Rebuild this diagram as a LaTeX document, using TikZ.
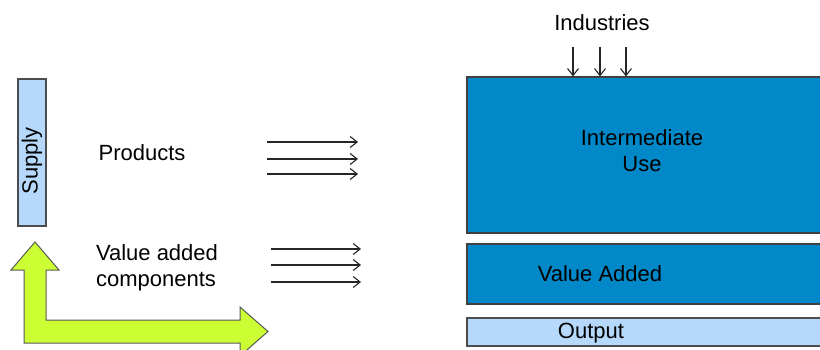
\documentclass[tikz,border=0pt]{standalone}
\usepackage{fontspec}
\setmainfont{Liberation Sans}
\usetikzlibrary{arrows.meta}
\definecolor{boxblue}{HTML}{0088C8}
\definecolor{paleblue}{HTML}{B6D9FB}
\definecolor{lime}{HTML}{CCFF33}
\tikzstyle{label}=[inner sep=0pt, font=\fontsize{22}{26}\selectfont, text=black]
\tikzstyle{bigbox}=[draw=black!75, fill=boxblue, line width=1.2pt, inner sep=0pt]
\tikzstyle{palebox}=[draw=black!70, fill=paleblue, line width=1.2pt, inner sep=0pt]
\tikzstyle{flow}=[-{Straight Barb[length=7pt,width=11pt]}, line width=1.1pt, black!85]

\begin{document}
\begin{tikzpicture}[x=1pt, y=-1pt]
		   \useasboundingbox (0,0) rectangle (820,350);
		   \clip (0,0) rectangle (820,350);
		   \begin{scope}
			   \node (supply) at (32,152.5)[palebox, minimum width=28pt, minimum height=147pt] {};
			   \node (supplytext) at (32,161)[label, rotate=90] {Supply};
			   \node (products) at (142,153)[label] {Products};
			   \node (valueadded) at (157,268)[label, align=left] {Value added\\components};
			   \node (interuse) at (644.5,155)[bigbox, minimum width=355pt, minimum height=156pt] {};
			   \node (intertext) at (642,150.5)[label, align=center] {Intermediate\\Use};
			   \node (vabox) at (644.5,274)[bigbox, minimum width=355pt, minimum height=60pt] {};
			   \node (vatext) at (600,274)[label] {Value Added};
			   \node (outbox) at (644.5,332)[palebox, minimum width=355pt, minimum height=28pt] {};
			   \node (outtext) at (591,333)[label] {Output};
			   \node (industries) at (602,23)[label] {Industries};
		   \end{scope}
		   % green L-shaped double arrow
		   \draw[fill=lime, draw=black!65, line width=1pt, line join=miter]
			   (35,242) -- (59,270) -- (46,270) -- (46,320) -- (240,320) -- (240,307)
			   -- (268,331.5) -- (240,356) -- (240,343) -- (24,343) -- (24,270) -- (11,270) -- cycle;
		   \begin{scope}
			   \foreach \i/\y in {1/142,2/159,3/174} {
				   \coordinate (p\i a) at (267,\y);
				   \coordinate (p\i b) at (358,\y);
				   \path [flow] (p\i a) edge (p\i b);
			   }
			   \foreach \i/\y in {1/249,2/265,3/282} {
				   \coordinate (v\i a) at (271,\y);
				   \coordinate (v\i b) at (361,\y);
				   \path [flow] (v\i a) edge (v\i b);
			   }
			   \foreach \i/\x in {1/573,2/600,3/626} {
				   \coordinate (ind\i) at (\x,47);
				   \path [flow] (ind\i) edge (ind\i |- interuse.north);
			   }
		   \end{scope}
	   \end{tikzpicture}
\end{document}
